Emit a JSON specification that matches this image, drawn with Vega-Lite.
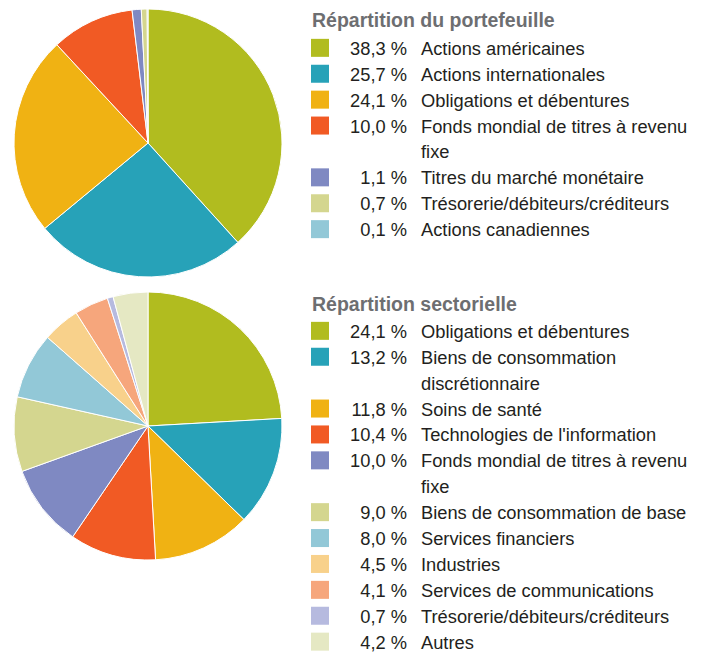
{
  "$schema": "https://vega.github.io/schema/vega-lite/v6.json",
  "padding": {"left": 12, "top": 7, "right": 0, "bottom": 0},
  "autosize": {"type": "pad"},
  "background": "white",
  "config": {
    "view": {"stroke": null},
    "locale": {"number": {"decimal": ",", "thousands": " ", "grouping": [3], "currency": ["", " €"], "percent": " %"}},
    "text": {"font": "Liberation Sans", "fontSize": 18.3, "color": "#231f20"}
  },
  "datasets": {
    "portefeuille": [
      {"rang": 1, "categorie": "Actions américaines", "valeur": 0.383},
      {"rang": 2, "categorie": "Actions internationales", "valeur": 0.257},
      {"rang": 3, "categorie": "Obligations et débentures", "valeur": 0.241},
      {"rang": 4, "categorie": "Fonds mondial de titres à revenu\nfixe", "valeur": 0.100},
      {"rang": 5, "categorie": "Titres du marché monétaire", "valeur": 0.011},
      {"rang": 6, "categorie": "Trésorerie/débiteurs/créditeurs", "valeur": 0.007},
      {"rang": 7, "categorie": "Actions canadiennes", "valeur": 0.001}
    ],
    "secteurs": [
      {"rang": 1, "categorie": "Obligations et débentures", "valeur": 0.241},
      {"rang": 2, "categorie": "Biens de consommation\ndiscrétionnaire", "valeur": 0.132},
      {"rang": 3, "categorie": "Soins de santé", "valeur": 0.118},
      {"rang": 4, "categorie": "Technologies de l'information", "valeur": 0.104},
      {"rang": 5, "categorie": "Fonds mondial de titres à revenu\nfixe", "valeur": 0.100},
      {"rang": 6, "categorie": "Biens de consommation de base", "valeur": 0.090},
      {"rang": 7, "categorie": "Services financiers", "valeur": 0.080},
      {"rang": 8, "categorie": "Industries", "valeur": 0.045},
      {"rang": 9, "categorie": "Services de communications", "valeur": 0.041},
      {"rang": 10, "categorie": "Trésorerie/débiteurs/créditeurs", "valeur": 0.007},
      {"rang": 11, "categorie": "Autres", "valeur": 0.042}
    ]
  },
  "spacing": 11,
  "resolve": {"scale": {"color": "independent", "x": "independent", "y": "independent", "theta": "independent"}},
  "vconcat": [
    {
      "spacing": 38,
      "bounds": "flush",
      "resolve": {"scale": {"x": "independent", "y": "independent"}},
      "hconcat": [
        {
          "data": {"name": "portefeuille"},
          "width": 268,
          "height": 268,
          "mark": {"type": "arc", "stroke": "white", "strokeWidth": 1},
          "encoding": {
            "theta": {"field": "valeur", "type": "quantitative", "stack": true},
            "order": {"field": "rang", "type": "quantitative"},
            "color": {
              "field": "categorie", "type": "nominal", "legend": null,
              "scale": {
                "domain": ["Actions américaines", "Actions internationales", "Obligations et débentures", "Fonds mondial de titres à revenu\nfixe", "Titres du marché monétaire", "Trésorerie/débiteurs/créditeurs", "Actions canadiennes"],
                "range": ["#b1bc1f", "#27a2b8", "#f0b213", "#f15a24", "#7f89c2", "#d4d68f", "#92c8d7"]
              }
            }
          }
        },
        {
          "data": {"name": "portefeuille"},
          "width": 94,
          "height": {"step": 25.9},
          "encoding": {
            "y": {
              "field": "categorie", "type": "nominal", "axis": null,
              "scale": {"type": "point", "padding": 0.5, "domain": ["titre", "Actions américaines", "Actions internationales", "Obligations et débentures", "Fonds mondial de titres à revenu\nfixe", "suite", "Titres du marché monétaire", "Trésorerie/débiteurs/créditeurs", "Actions canadiennes"]}
            }
          },
          "layer": [
            {
              "mark": {"type": "square", "size": 324, "opacity": 1, "filled": true},
              "encoding": {
                "x": {"datum": "carré", "type": "nominal", "axis": null, "scale": {"type": "point", "padding": 0, "domain": ["carré", "texte"]}},
                "color": {
                  "field": "categorie", "type": "nominal", "legend": null,
                  "scale": {
                    "domain": ["Actions américaines", "Actions internationales", "Obligations et débentures", "Fonds mondial de titres à revenu\nfixe", "Titres du marché monétaire", "Trésorerie/débiteurs/créditeurs", "Actions canadiennes"],
                    "range": ["#b1bc1f", "#27a2b8", "#f0b213", "#f15a24", "#7f89c2", "#d4d68f", "#92c8d7"]
                  }
                }
              }
            },
            {
              "mark": {"type": "text", "align": "right", "baseline": "alphabetic", "dx": -7, "dy": 7},
              "encoding": {
                "x": {"datum": "texte", "type": "nominal"},
                "text": {"field": "valeur", "type": "quantitative", "format": ".1%"}
              }
            },
            {
              "mark": {"type": "text", "align": "left", "baseline": "alphabetic", "dx": 7, "dy": 7, "lineBreak": "\n", "lineHeight": 25.9},
              "encoding": {
                "x": {"datum": "texte", "type": "nominal"},
                "text": {"field": "categorie", "type": "nominal"}
              }
            },
            {
              "data": {"values": [{}]},
              "mark": {"type": "text", "align": "left", "baseline": "alphabetic", "dx": -8, "dy": 5, "font": "Liberation Sans", "fontWeight": "bold", "fontSize": 19.5, "color": "#6d6e71"},
              "encoding": {
                "x": {"datum": "carré", "type": "nominal"},
                "y": {"datum": "titre", "type": "nominal"},
                "text": {"value": "Répartition du portefeuille"}
              }
            }
          ]
        }
      ]
    },
    {
      "spacing": 38,
      "bounds": "flush",
      "resolve": {"scale": {"x": "independent", "y": "independent"}},
      "hconcat": [
        {
          "data": {"name": "secteurs"},
          "width": 268,
          "height": 268,
          "mark": {"type": "arc", "stroke": "white", "strokeWidth": 1},
          "encoding": {
            "theta": {"field": "valeur", "type": "quantitative", "stack": true},
            "order": {"field": "rang", "type": "quantitative"},
            "color": {
              "field": "categorie", "type": "nominal", "legend": null,
              "scale": {
                "domain": ["Obligations et débentures", "Biens de consommation\ndiscrétionnaire", "Soins de santé", "Technologies de l'information", "Fonds mondial de titres à revenu\nfixe", "Biens de consommation de base", "Services financiers", "Industries", "Services de communications", "Trésorerie/débiteurs/créditeurs", "Autres"],
                "range": ["#b1bc1f", "#27a2b8", "#f0b213", "#f15a24", "#7f89c2", "#d4d68f", "#92c8d7", "#f8d18b", "#f6a67c", "#b6badf", "#e5e8c3"]
              }
            }
          }
        },
        {
          "data": {"name": "secteurs"},
          "width": 94,
          "height": {"step": 25.9},
          "encoding": {
            "y": {
              "field": "categorie", "type": "nominal", "axis": null,
              "scale": {"type": "point", "padding": 0.5, "domain": ["titre", "Obligations et débentures", "Biens de consommation\ndiscrétionnaire", "suite1", "Soins de santé", "Technologies de l'information", "Fonds mondial de titres à revenu\nfixe", "suite2", "Biens de consommation de base", "Services financiers", "Industries", "Services de communications", "Trésorerie/débiteurs/créditeurs", "Autres"]}
            }
          },
          "layer": [
            {
              "mark": {"type": "square", "size": 324, "opacity": 1, "filled": true},
              "encoding": {
                "x": {"datum": "carré", "type": "nominal", "axis": null, "scale": {"type": "point", "padding": 0, "domain": ["carré", "texte"]}},
                "color": {
                  "field": "categorie", "type": "nominal", "legend": null,
                  "scale": {
                    "domain": ["Obligations et débentures", "Biens de consommation\ndiscrétionnaire", "Soins de santé", "Technologies de l'information", "Fonds mondial de titres à revenu\nfixe", "Biens de consommation de base", "Services financiers", "Industries", "Services de communications", "Trésorerie/débiteurs/créditeurs", "Autres"],
                    "range": ["#b1bc1f", "#27a2b8", "#f0b213", "#f15a24", "#7f89c2", "#d4d68f", "#92c8d7", "#f8d18b", "#f6a67c", "#b6badf", "#e5e8c3"]
                  }
                }
              }
            },
            {
              "mark": {"type": "text", "align": "right", "baseline": "alphabetic", "dx": -7, "dy": 7},
              "encoding": {
                "x": {"datum": "texte", "type": "nominal"},
                "text": {"field": "valeur", "type": "quantitative", "format": ".1%"}
              }
            },
            {
              "mark": {"type": "text", "align": "left", "baseline": "alphabetic", "dx": 7, "dy": 7, "lineBreak": "\n", "lineHeight": 25.9},
              "encoding": {
                "x": {"datum": "texte", "type": "nominal"},
                "text": {"field": "categorie", "type": "nominal"}
              }
            },
            {
              "data": {"values": [{}]},
              "mark": {"type": "text", "align": "left", "baseline": "alphabetic", "dx": -8, "dy": 6, "font": "Liberation Sans", "fontWeight": "bold", "fontSize": 19.5, "color": "#6d6e71"},
              "encoding": {
                "x": {"datum": "carré", "type": "nominal"},
                "y": {"datum": "titre", "type": "nominal"},
                "text": {"value": "Répartition sectorielle"}
              }
            }
          ]
        }
      ]
    }
  ]
}
